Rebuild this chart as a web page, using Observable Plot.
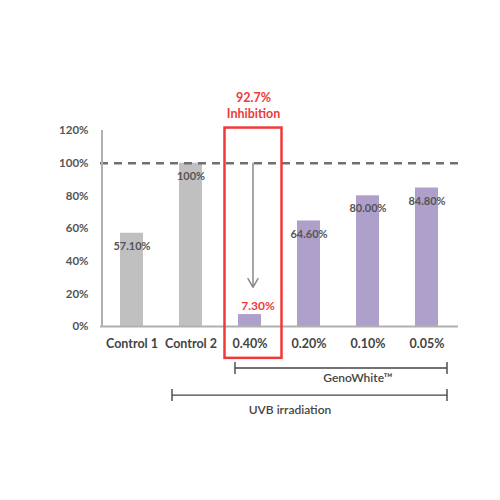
<!DOCTYPE html>
<html><head><meta charset="utf-8">
<script src="https://cdn.jsdelivr.net/npm/d3@7"></script>
<script src="https://cdn.jsdelivr.net/npm/@observablehq/plot@0.6"></script>
<style>
html,body{margin:0;padding:0;background:#fff;}
#chart{width:500px;height:500px;}
</style>
</head><body><div id="chart"></div>
<script>
const categories = ["Control 1","Control 2","0.40%","0.20%","0.10%","0.05%"];
const values = [57.1, 100, 7.3, 64.6, 80.0, 84.8];
const valueLabels = ["57.10%","100%","7.30%","64.60%","80.00%","84.80%"];
const groups = ["control","control","treated","treated","treated","treated"];
const yTicks = [0,20,40,60,80,100,120];
const highlight = "0.40%";
const inhibitionText = ["92.7%","Inhibition"];
const genoLabel = "GenoWhite™";
const uvbLabel = "UVB irradiation";

const data = categories.map((c,i)=>({cat:c, v:values[i], label:valueLabels[i], group:groups[i]}));
const font = "Lato, 'Open Sans', sans-serif";
const textColor = "#555";

const plot = Plot.plot({
  width: 500, height: 500,
  marginLeft: 100, marginRight: 42, marginTop: 130, marginBottom: 174,
  style: {fontFamily: font, background: "#fff"},
  x: {domain: categories, padding: 0, label: null, axis: null},
  y: {domain: [0,120], label: null, axis: null},
  color: {domain: ["control","treated"], range: ["#c0c0c0","#ae9fcb"]},
  marks: [
    Plot.barY(data, {x:"cat", y:"v", fill:"group", insetLeft:18, insetRight:18}),
    Plot.ruleY([0], {stroke:"#b0b0b0", strokeWidth:2}),
    Plot.ruleY([100], {stroke:"#707070", strokeWidth:2.5, strokeDasharray:"8,6"}),
    Plot.text(yTicks, {frameAnchor:"left", y: d=>d, text: d=>d+"%", textAnchor:"end", dx:-12, fill:textColor, fontWeight:"bold", fontSize:11.5}),
    Plot.text(data, {x:"cat", y:0, text:"cat", dy:17, fill:"#444", fontWeight:"bold", fontSize:12.5}),
    Plot.text(data.filter(d=>d.cat!==highlight), {x:"cat", y:"v", text:"label", dy:13, fill:textColor, fontWeight:"bold", fontSize:11}),
    Plot.text(data.filter(d=>d.cat===highlight), {x:"cat", y:"v", text:"label", dy:-8, dx:8, fill:"#f03a3a", fontWeight:"bold", fontSize:12}),
    Plot.arrow([{cat:highlight}], {x1:"cat", x2:"cat", y1:100, y2:24, stroke:"#8a8a8a", strokeWidth:1.5, headLength:10, dx:3})
  ]
});

// annotations placed through the plot's own scales
const svg = d3.select(plot);
const xs = plot.scale("x"), ys = plot.scale("y");
const bw = xs.bandwidth;
const X = c => xs.apply(c);
const Y = v => ys.apply(v);

const g = svg.append("g");
// left axis line
g.append("line").attr("x1", X(categories[0])).attr("x2", X(categories[0])).attr("y1", Y(0)).attr("y2", Y(120))
  .attr("stroke","#b0b0b0").attr("stroke-width",2);
// red highlight box
const hx = X(highlight);
g.append("rect").attr("x", hx+4.5).attr("y", Y(121.5)).attr("width", bw-2).attr("height", Y(-19.5)-Y(121.5))
  .attr("fill","none").attr("stroke","#f03a3a").attr("stroke-width",2.5);
[[inhibitionText[0],139.5],[inhibitionText[1],129.8]].forEach(([t,v])=>
  g.append("text").attr("x", hx+bw/2+4).attr("y", Y(v)).attr("text-anchor","middle").attr("dy","0.32em")
   .attr("fill","#f03a3a").attr("font-weight","bold").attr("font-size",12.5).attr("font-family",font).text(t));

// brackets
function bracket(x1, x2, yv, label, labelX, labelY){
  const y = Y(yv);
  g.append("line").attr("x1",x1).attr("x2",x2).attr("y1",y).attr("y2",y).attr("stroke","#444").attr("stroke-width",1.4);
  [x1,x2].forEach(x=>g.append("line").attr("x1",x).attr("x2",x).attr("y1",y-6).attr("y2",y+6).attr("stroke","#444").attr("stroke-width",1.4));
  g.append("text").attr("x",labelX).attr("y",Y(labelY)).attr("text-anchor","middle").attr("dy","0.32em")
    .attr("fill","#444").attr("font-size",12).attr("font-family",font).attr("font-weight","600").text(label);
}
const last = categories[categories.length-1];
const rightEnd = X(last)+bw-9;
bracket(X(highlight)+15, rightEnd, -25.7, genoLabel, (X(highlight)+15+rightEnd)/2+17, -31.8);
bracket(X(categories[1])+11, rightEnd, -42.3, uvbLabel, X(categories[3])+11, -51.5);

document.getElementById("chart").appendChild(plot);
</script>
</body></html>
